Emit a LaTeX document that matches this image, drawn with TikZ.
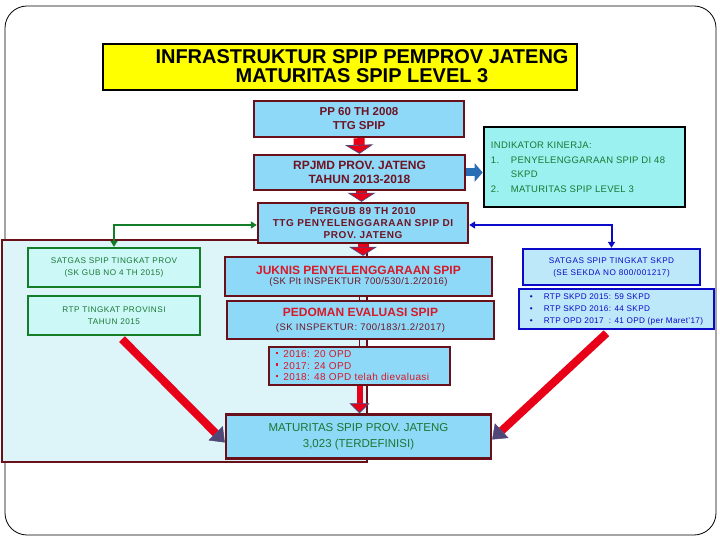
\documentclass[tikz,border=0pt]{standalone}
\usepackage{fontspec}
\setmainfont{Liberation Sans}
\usetikzlibrary{arrows.meta}
\definecolor{boxblue}{RGB}{142,216,248}
\definecolor{maroonb}{RGB}{105,16,26}
\definecolor{titleyellow}{RGB}{255,255,0}
\definecolor{panelfill}{RGB}{221,244,248}
\definecolor{indfill}{RGB}{155,240,240}
\definecolor{provfill}{RGB}{204,248,248}
\definecolor{skpdfill}{RGB}{188,232,250}
\definecolor{greenb}{RGB}{20,125,40}
\definecolor{greent}{RGB}{25,120,50}
\definecolor{blueb}{RGB}{10,10,200}
\definecolor{arrowred}{RGB}{232,0,24}
\definecolor{headdark}{RGB}{80,70,120}
\definecolor{arrowblue}{RGB}{40,110,180}
\definecolor{redtext}{RGB}{215,25,40}
\definecolor{darkredtext}{RGB}{110,20,35}
\begin{document}
\begin{tikzpicture}[x=1pt,y=-1pt,
  mbox/.style={draw=maroonb, line width=2.4pt, fill=boxblue, inner sep=0pt, align=center},
  gbox/.style={draw=greenb, line width=2.2pt, fill=provfill, inner sep=0pt, align=center,
    text=greent, font=\fontsize{8}{12}\selectfont},
  bbox/.style={draw=blueb, line width=2.4pt, fill=skpdfill, inner sep=0pt, align=center,
    text=blueb, font=\fontsize{8}{12}\selectfont},
  redarrow/.style={draw=arrowred, line width=11pt,
    -{Triangle[width=28pt,length=9pt,color=headdark,fill=arrowred,line width=0.8pt]}},
  diagarrow/.style={draw=arrowred, line width=8pt,
    -{Triangle[width=20pt,length=13pt,color=headdark,fill=headdark,line width=0.5pt]}},
  thinarrow/.style={draw=arrowred, line width=6pt,
    -{Triangle[width=20pt,length=10pt,color=headdark,fill=arrowred,line width=0.8pt]}},
  bluearrow/.style={draw=arrowblue, line width=8pt,
    -{Triangle[width=18pt,length=8pt,color=arrowblue,fill=arrowblue]}},
  gconn/.style={draw=greenb, line width=2pt, {Triangle[width=7pt,length=6pt]}-{Triangle[width=7pt,length=6pt]}},
  bconn/.style={draw=blueb, line width=2pt, {Triangle[width=7pt,length=6pt]}-{Triangle[width=7pt,length=6pt]}},
  mline/.style={draw=maroonb, line width=1.5pt}
]
\useasboundingbox (0,0) rectangle (720,540);
\fill[white] (0,0) rectangle (720,540);
% outer frame
\draw[black, line width=0.8pt, rounded corners=22pt] (5,6) rectangle (716,535);
% left panel
\draw[maroonb, line width=2.2pt, fill=panelfill] (2,240) rectangle (367,462);
% title
\node[draw=black, line width=2.4pt, fill=titleyellow, minimum width=474pt, minimum height=46pt, inner sep=0pt] (title) at (340,67) {};
\node[font=\bfseries\fontsize{20}{19}\selectfont, align=center, inner sep=0pt] (titletext) at (362,66) {INFRASTRUKTUR SPIP PEMPROV JATENG\\MATURITAS SPIP LEVEL 3};
% main column
\node[mbox, minimum width=210pt, minimum height=36pt, text=darkredtext, font=\bfseries\fontsize{11.5}{14}\selectfont] (pp) at (359,119) {PP 60 TH 2008\\TTG SPIP};
\node[mbox, minimum width=211pt, minimum height=35pt, text=darkredtext, font=\bfseries\fontsize{12}{14}\selectfont] (rpjmd) at (359.5,172.5) {RPJMD PROV. JATENG\\TAHUN 2013-2018};
\node[mbox, minimum width=210pt, minimum height=40pt, text=darkredtext, font=\bfseries\fontsize{10}{12}\selectfont\addfontfeatures{LetterSpace=6}] (pergub) at (363,223) {PERGUB 89 TH 2010\\TTG PENYELENGGARAAN SPIP DI\\PROV. JATENG};
\node[mbox, minimum width=267pt, minimum height=39pt] (juknis) at (358.5,276.5) {{\color{redtext}\bfseries\fontsize{12}{12}\selectfont JUKNIS PENYELENGGARAAN SPIP}\\[-2pt]{\color{darkredtext}\fontsize{9.5}{11}\selectfont\addfontfeatures{LetterSpace=4}(SK Plt INSPEKTUR 700/530/1.2/2016)}};
\node[mbox, minimum width=267pt, minimum height=38pt] (pedoman) at (360.5,320) {{\color{redtext}\bfseries\fontsize{12}{12}\selectfont PEDOMAN EVALUASI SPIP}\\[2pt]{\color{darkredtext}\fontsize{9.5}{11}\selectfont\addfontfeatures{LetterSpace=5}(SK INSPEKTUR: 700/183/1.2/2017)}};
\node[mbox, minimum width=181pt, minimum height=38pt, text=redtext, align=left, font=\fontsize{10}{11.5}\selectfont\addfontfeatures{LetterSpace=4}] (bullets) at (359.5,366)
  {\raisebox{3.5pt}{\rule{2.5pt}{2.5pt}}\hspace{5pt}2016: 20 OPD\\
   \raisebox{3.5pt}{\rule{2.5pt}{2.5pt}}\hspace{5pt}2017: 24 OPD\\
   \raisebox{3.5pt}{\rule{2.5pt}{2.5pt}}\hspace{5pt}2018: 48 OPD telah dievaluasi\rule{14pt}{0pt}};
\node[mbox, minimum width=265pt, minimum height=44pt, text=greent, font=\fontsize{11.5}{16}\selectfont] (maturitas) at (358.5,436.5) {MATURITAS SPIP PROV. JATENG\\3,023 (TERDEFINISI)};
% indikator
\node[draw=black, line width=2.6pt, fill=indfill, minimum width=201pt, minimum height=80pt, inner sep=0pt, align=left, text=greent, font=\fontsize{9.5}{14.5}\selectfont\addfontfeatures{LetterSpace=3}] (indikator) at (584.5,167)
  {INDIKATOR KINERJA:\\
   \makebox[20pt][l]{1.}PENYELENGGARAAN SPIP DI 48\rule{13pt}{0pt}\\
   \makebox[20pt][l]{}SKPD\\
   \makebox[20pt][l]{2.}MATURITAS SPIP LEVEL 3};
% left green boxes
\node[gbox, minimum width=172pt, minimum height=39pt, font=\fontsize{8.2}{12}\selectfont\addfontfeatures{LetterSpace=6}] (satgasprov) at (114,267.5) {SATGAS SPIP TINGKAT PROV\\(SK GUB NO 4 TH 2015)};
\node[gbox, minimum width=172pt, minimum height=39pt, font=\fontsize{8.2}{12}\selectfont\addfontfeatures{LetterSpace=6}] (rtpprov) at (114,315.5) {RTP TINGKAT PROVINSI\\TAHUN 2015};
% right blue boxes
\node[bbox, minimum width=177pt, minimum height=36pt, font=\fontsize{8.2}{12}\selectfont\addfontfeatures{LetterSpace=6}] (satgasskpd) at (611.5,267) {SATGAS SPIP TINGKAT SKPD\\(SE SEKDA NO 800/001217)};
\node[bbox, minimum width=195pt, minimum height=40pt, align=left, font=\fontsize{8.2}{12}\selectfont\addfontfeatures{LetterSpace=4}] (rtpskpd) at (616.5,309)
  {\makebox[14pt][l]{•}RTP SKPD 2015: 59 SKPD\\
   \makebox[14pt][l]{•}RTP SKPD 2016: 44 SKPD\\
   \makebox[14pt][l]{•}RTP OPD 2017\ \ : 41 OPD (per Maret'17)};
% connectors
\draw[redarrow] (pp.south) -- (rpjmd.north);
\draw[redarrow] ([xshift=2pt]rpjmd.south) -- ([xshift=-1.5pt]pergub.north);
\draw[redarrow] (pergub.south) -- (pergub.south |- juknis.north);
\draw[mline] (juknis.south -| bullets.north) -- (bullets.north |- pedoman.north);
\draw[mline] (pedoman.south -| bullets.north) -- (bullets.north);
\draw[thinarrow] (bullets.south) -- (bullets.south |- maturitas.north);
\draw[bluearrow] (rpjmd.east) -- (rpjmd.east -| indikator.west);
\draw[gconn] (satgasprov.north) |- ([yshift=-2pt]pergub.west);
\draw[bconn] (satgasskpd.north) |- ([yshift=-2pt]pergub.east);
\draw[diagarrow] ([xshift=8pt,yshift=-3pt]rtpprov.south) -- ([yshift=-6pt]maturitas.west);
\draw[diagarrow] ([xshift=-10pt,yshift=-3pt]rtpskpd.south) -- ([yshift=-3pt]maturitas.east);
\end{tikzpicture}
\end{document}
